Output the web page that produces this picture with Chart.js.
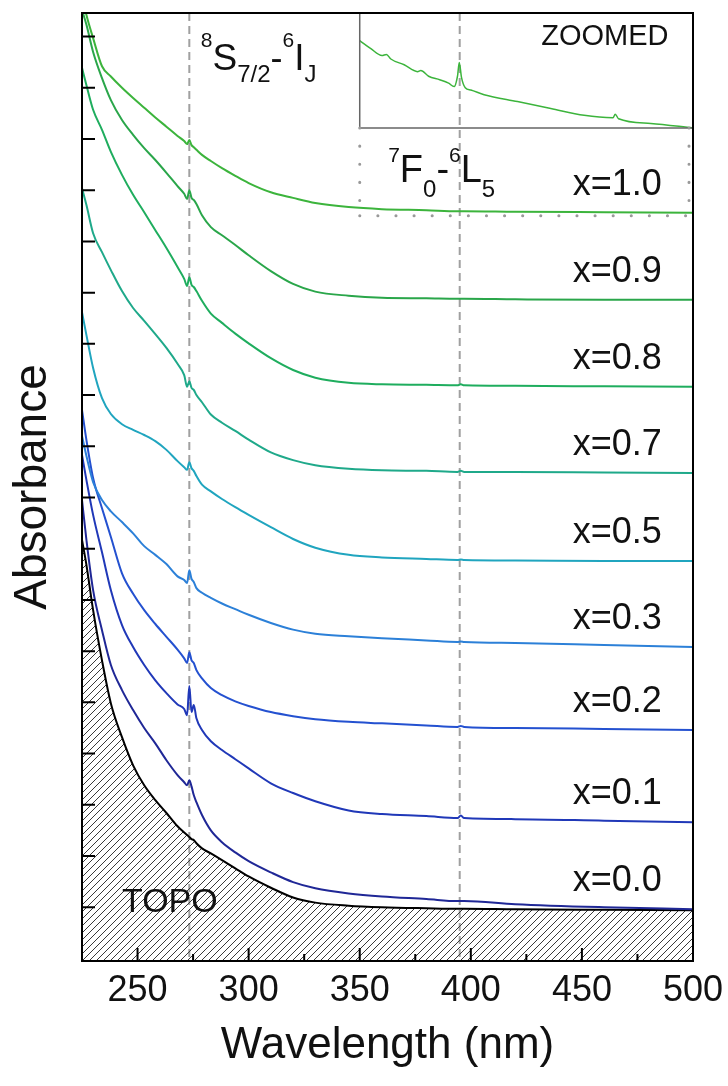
<!DOCTYPE html>
<html>
<head>
<meta charset="utf-8">
<script src="https://cdn.jsdelivr.net/npm/chart.js@4.4.1/dist/chart.umd.min.js"></script>
<style>
  html, body { margin: 0; padding: 0; background: #fff; }
  #wrap { width: 728px; height: 1086px; }
</style>
</head>
<body>
<div id="wrap"><canvas id="absChart" width="728" height="1086"></canvas></div>
<script>
// wavelength grid (nm) shared by all spectra
const wavelengths = [225, 227, 230, 234, 238, 243, 248, 253, 258, 263, 268, 271, 272.3, 273.3, 274.3, 275.3, 276.5, 279, 283, 288, 294, 300, 310, 320, 330, 345, 360, 380, 394, 395.5, 397, 420, 460, 500];

const seriesNames = ["x=1.0", "x=0.9", "x=0.8", "x=0.7", "x=0.5", "x=0.3", "x=0.2", "x=0.1", "x=0.0"];
const seriesColors = ["#3cb43c", "#2aa64a", "#1fad5e", "#1fa98a", "#20a5bf", "#2c80d8", "#2451d0", "#2038b8", "#1f2796"];

// absorbance, offset for stacking (a.u.)
const abs10 = [17.81, 17.42, 16.97, 16.42, 16.22, 16.00, 15.80, 15.61, 15.42, 15.24, 15.06, 14.96, 14.90, 14.98, 14.88, 14.84, 14.79, 14.69, 14.57, 14.43, 14.28, 14.14, 13.96, 13.85, 13.75, 13.67, 13.63, 13.61, 13.59, 13.59, 13.59, 13.58, 13.57, 13.56];
const abs09 = [17.52, 17.23, 16.70, 16.19, 15.76, 15.37, 15.08, 14.82, 14.59, 14.34, 14.08, 13.93, 13.83, 14.00, 13.85, 13.81, 13.73, 13.51, 13.28, 13.12, 12.93, 12.73, 12.42, 12.17, 12.02, 11.94, 11.90, 11.89, 11.88, 11.88, 11.88, 11.87, 11.86, 11.86];
const abs08 = [16.39, 16.05, 15.57, 15.18, 14.75, 14.30, 13.91, 13.57, 13.22, 12.87, 12.50, 12.27, 12.13, 12.30, 12.15, 12.11, 12.03, 11.84, 11.59, 11.41, 11.20, 11.01, 10.72, 10.49, 10.34, 10.24, 10.21, 10.20, 10.19, 10.21, 10.19, 10.18, 10.17, 10.16];
const abs07 = [14.04, 13.71, 13.16, 12.79, 12.44, 12.03, 11.70, 11.45, 11.19, 10.92, 10.61, 10.39, 10.16, 10.27, 10.14, 10.10, 10.00, 9.86, 9.62, 9.46, 9.30, 9.13, 8.88, 8.73, 8.63, 8.56, 8.53, 8.52, 8.50, 8.52, 8.50, 8.50, 8.49, 8.48];
const abs05 = [11.62, 11.17, 10.53, 9.94, 9.63, 9.43, 9.32, 9.22, 9.10, 8.93, 8.71, 8.59, 8.54, 8.69, 8.57, 8.52, 8.42, 8.25, 8.12, 7.97, 7.81, 7.66, 7.42, 7.19, 7.02, 6.88, 6.83, 6.80, 6.78, 6.79, 6.78, 6.77, 6.76, 6.76];
const abs03 = [9.20, 8.81, 8.30, 7.95, 7.73, 7.52, 7.30, 7.05, 6.88, 6.70, 6.46, 6.39, 6.33, 6.58, 6.41, 6.35, 6.23, 6.14, 6.04, 5.93, 5.82, 5.71, 5.55, 5.42, 5.34, 5.29, 5.25, 5.21, 5.18, 5.19, 5.18, 5.16, 5.12, 5.08];
const abs02 = [9.71, 9.12, 8.38, 7.79, 7.23, 6.52, 6.12, 5.80, 5.53, 5.28, 5.03, 4.86, 4.77, 4.98, 4.82, 4.77, 4.63, 4.47, 4.28, 4.14, 4.02, 3.93, 3.81, 3.73, 3.67, 3.62, 3.59, 3.55, 3.52, 3.54, 3.52, 3.50, 3.48, 3.46];
const abs01 = [8.83, 8.34, 7.66, 6.93, 6.19, 5.51, 5.08, 4.73, 4.43, 4.18, 3.96, 3.87, 3.75, 4.32, 3.81, 3.95, 3.69, 3.46, 3.24, 3.07, 2.89, 2.71, 2.42, 2.23, 2.07, 1.89, 1.82, 1.78, 1.74, 1.79, 1.74, 1.72, 1.69, 1.66];
const abs00 = [7.95, 7.17, 6.19, 5.41, 4.73, 4.24, 3.85, 3.50, 3.20, 2.87, 2.58, 2.44, 2.38, 2.48, 2.36, 2.19, 2.05, 1.80, 1.50, 1.27, 1.07, 0.90, 0.68, 0.49, 0.37, 0.27, 0.21, 0.16, 0.12, 0.12, 0.12, 0.06, 0.00, -0.04];
const topo = [7.17, 6.68, 5.80, 4.82, 3.98, 3.32, 2.77, 2.38, 2.09, 1.84, 1.58, 1.46, 1.41, 1.37, 1.33, 1.31, 1.25, 1.15, 1.05, 0.92, 0.76, 0.60, 0.38, 0.19, 0.09, 0.03, 0.00, -0.02, -0.03, -0.03, -0.03, -0.04, -0.05, -0.06];

// zoomed view of x=1.0 between 350 and 500 nm (relative units)
const zoomWl = [350, 355, 360, 362, 364, 370, 376, 377.5, 381, 386, 390, 392.5, 394, 394.8, 395.8, 397.5, 400, 406, 421, 436, 451, 464, 465, 466.5, 481, 500];
const zoomAbs = [0.76, 0.69, 0.63, 0.64, 0.60, 0.55, 0.49, 0.50, 0.45, 0.42, 0.39, 0.36, 0.45, 0.57, 0.44, 0.35, 0.33, 0.29, 0.23, 0.17, 0.11, 0.09, 0.12, 0.08, 0.04, 0.00];

const xTicks = [250, 300, 350, 400, 450, 500];
const xMinorTicks = [275, 325, 375, 425, 475];
const yTicks = [0, 1, 2, 3, 4, 5, 6, 7, 8, 9, 10, 11, 12, 13, 14, 15, 16, 17];
const transitionLines = [273.3, 395];

const allSeries = [abs10, abs09, abs08, abs07, abs05, abs03, abs02, abs01, abs00];
const FONT = '"Liberation Sans", Arial, sans-serif';

Chart.defaults.font.family = FONT;
Chart.defaults.color = "#111";

const canvas = document.getElementById("absChart");
const ctx = canvas.getContext("2d");

function hatchPattern() {
    const s = 7;
    const c = document.createElement("canvas");
    c.width = s;
    c.height = s;
    const g = c.getContext("2d");
    g.strokeStyle = "#3a3a3a";
    g.lineWidth = 1;
    g.beginPath();
    g.moveTo(0, s); g.lineTo(s, 0);
    g.moveTo(-s / 2, s / 2); g.lineTo(s / 2, -s / 2);
    g.moveTo(s / 2, s * 1.5); g.lineTo(s * 1.5, s / 2);
    g.stroke();
    return ctx.createPattern(c, "repeat");
}

function toPoints(xs, ys) {
    return xs.map((w, i) => ({ x: w, y: ys[i] }));
}

const datasets = allSeries.map((arr, i) => ({
    label: seriesNames[i],
    data: toPoints(wavelengths, arr),
    borderColor: seriesColors[i],
    borderWidth: 2,
    pointRadius: 0,
    fill: false,
    cubicInterpolationMode: "monotone"
}));

datasets.push({
    label: "TOPO",
    data: toPoints(wavelengths, topo),
    borderColor: "#000",
    borderWidth: 2,
    pointRadius: 0,
    backgroundColor: hatchPattern(),
    fill: "start",
    cubicInterpolationMode: "monotone"
});

datasets.push({
    label: "zoom",
    data: toPoints(zoomWl, zoomAbs),
    yAxisID: "yInset",
    borderColor: seriesColors[0],
    borderWidth: 1.5,
    pointRadius: 0,
    fill: false,
    cubicInterpolationMode: "monotone"
});

// draws text pieces with super/subscripts, left to right
function richText(c, x, y, parts) {
    parts.forEach(p => {
        c.font = p.size + "px " + FONT;
        c.fillText(p.t, x, y + (p.dy || 0));
        x += c.measureText(p.t).width;
    });
}

const decorations = {
    id: "decorations",
    beforeDatasetsDraw(chart) {
        const { chartArea: a, scales: { x } } = chart;
        const c = chart.ctx;
        c.save();
        c.strokeStyle = "#a0a0a0";
        c.lineWidth = 2;
        c.setLineDash([8, 5]);
        transitionLines.forEach(w => {
            const px = x.getPixelForValue(w);
            c.beginPath();
            c.moveTo(px, a.top);
            c.lineTo(px, a.bottom);
            c.stroke();
        });
        c.restore();
    },
    afterDatasetsDraw(chart) {
        const { chartArea: a, scales: { x, y, yInset } } = chart;
        const c = chart.ctx;
        c.save();

        // inset frame
        const ix0 = x.getPixelForValue(350);
        const ix1 = x.getPixelForValue(500);
        const iy0 = yInset.getPixelForValue(0);
        const dotBottom = y.getPixelForValue(13.5);
        c.strokeStyle = "#666";
        c.lineWidth = 1.5;
        c.beginPath();
        c.moveTo(ix0, a.top);
        c.lineTo(ix0, iy0);
        c.lineTo(ix1, iy0);
        c.stroke();

        c.strokeStyle = "#999";
        c.lineWidth = 3;
        c.lineCap = "round";
        c.setLineDash([0.1, 18]);
        c.beginPath();
        c.moveTo(ix0, iy0);
        c.lineTo(ix0, dotBottom);
        c.moveTo(ix0, dotBottom);
        c.lineTo(ix1, dotBottom);
        c.moveTo(ix1 - 4, iy0);
        c.lineTo(ix1 - 4, dotBottom);
        c.stroke();
        c.setLineDash([]);
        c.lineCap = "butt";

        // frame
        c.strokeStyle = "#000";
        c.lineWidth = 2;
        c.strokeRect(a.left, a.top, a.right - a.left, a.bottom - a.top);

        // inward ticks
        c.lineWidth = 2;
        c.beginPath();
        y.ticks.forEach(t => {
            const py = y.getPixelForValue(t.value);
            c.moveTo(a.left, py);
            c.lineTo(a.left + 13, py);
        });
        x.ticks.forEach(t => {
            const px = x.getPixelForValue(t.value);
            c.moveTo(px, a.bottom);
            c.lineTo(px, a.bottom - 13);
        });
        xMinorTicks.forEach(v => {
            const px = x.getPixelForValue(v);
            c.moveTo(px, a.bottom);
            c.lineTo(px, a.bottom - 7);
        });
        c.stroke();

        // series labels above each curve's right end
        c.fillStyle = "#111";
        c.textAlign = "right";
        c.textBaseline = "alphabetic";
        c.font = "36px " + FONT;
        const lx = x.getPixelForValue(486);
        allSeries.forEach((arr, i) => {
            const py = y.getPixelForValue(arr[arr.length - 1]);
            c.fillText(seriesNames[i], lx, py - 18);
        });

        c.font = "29px " + FONT;
        c.fillText("ZOOMED", x.getPixelForValue(489), y.getPixelForValue(16.84));

        c.textAlign = "left";
        c.font = "34px " + FONT;
        c.fillText("TOPO", x.getPixelForValue(243), y.getPixelForValue(-0.1));

        richText(c, x.getPixelForValue(278.5), y.getPixelForValue(16.35), [
            { t: "8", size: 21, dy: -23 },
            { t: "S", size: 37 },
            { t: "7/2", size: 24, dy: 12 },
            { t: "-", size: 36 },
            { t: "6", size: 21, dy: -23 },
            { t: "I", size: 37 },
            { t: "J", size: 24, dy: 12 }
        ]);
        richText(c, x.getPixelForValue(362.8), y.getPixelForValue(14.16), [
            { t: "7", size: 21, dy: -20 },
            { t: "F", size: 38 },
            { t: "0", size: 24, dy: 15 },
            { t: "-", size: 38 },
            { t: "6", size: 21, dy: -20 },
            { t: "L", size: 38 },
            { t: "5", size: 24, dy: 15 }
        ]);
        c.restore();
    }
};

new Chart(ctx, {
    type: "line",
    data: { datasets },
    options: {
        responsive: false,
        animation: false,
        events: [],
        layout: { padding: { top: 13, right: 35, left: 0, bottom: 0 } },
        plugins: {
            legend: { display: false },
            tooltip: { enabled: false }
        },
        scales: {
            x: {
                type: "linear",
                min: 225,
                max: 500,
                afterBuildTicks: s => { s.ticks = xTicks.map(v => ({ value: v })); },
                afterFit: s => { s.height = 125; s.paddingLeft = 0; s.paddingRight = 0; },
                grid: { display: false, drawTicks: false },
                border: { display: false },
                ticks: { font: { size: 36 }, color: "#111", padding: 8, maxRotation: 0, autoSkip: false },
                title: { display: true, text: "Wavelength (nm)", font: { size: 44 }, color: "#111", padding: { top: 6, bottom: 14 } }
            },
            y: {
                type: "linear",
                min: -1.05,
                max: 17.46,
                afterBuildTicks: s => { s.ticks = yTicks.map(v => ({ value: v })); },
                afterFit: s => { s.width = 82; },
                grid: { display: false, drawTicks: false },
                border: { display: false },
                ticks: { display: false },
                title: { display: true, text: "Absorbance", font: { size: 46 }, color: "#111", padding: { top: 6, bottom: 10 } }
            },
            yInset: {
                type: "linear",
                display: false,
                min: -7.243,
                max: 1
            }
        }
    },
    plugins: [decorations]
});
</script>
</body>
</html>
